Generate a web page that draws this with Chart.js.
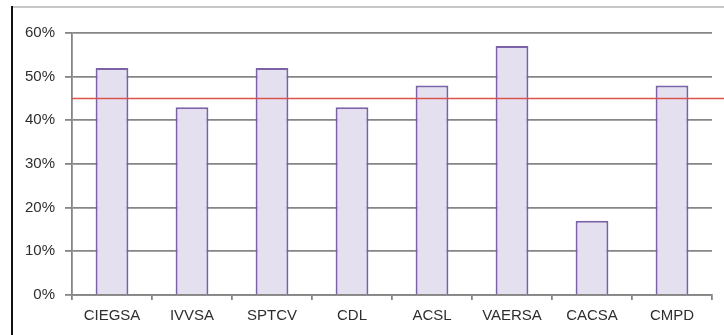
<!DOCTYPE html>
<html>
<head>
<meta charset="utf-8">
<script src="https://cdn.jsdelivr.net/npm/chart.js@4"></script>
<style>
  html, body { margin: 0; padding: 0; background: #fff; }
  #wrap { width: 724px; height: 335px; position: relative; }
</style>
</head>
<body>
<div id="wrap"><canvas id="myChart"></canvas></div>
<script>
// données
var categories = ["CIEGSA", "IVVSA", "SPTCV", "CDL", "ACSL", "VAERSA", "CACSA", "CMPD"];
var percentValues = [52, 43, 52, 43, 48, 57, 17, 48];
var referenceLevel = 45;
var yTicks = [0, 10, 20, 30, 40, 50, 60];

var gridColor = "#868686";
var textColor = "#2e2e2e";
var labelFont = { family: "'Liberation Sans', Arial, sans-serif", size: 15 };

// ligne rouge de référence + cadre gauche/haut
var framePlugin = {
  id: "frame",
  afterDatasetsDraw: function (chart) {
    var ctx = chart.ctx;
    var y = chart.scales.y.getPixelForValue(referenceLevel);
    ctx.save();
    ctx.strokeStyle = "#d9534f";
    ctx.lineWidth = 1.5;
    ctx.beginPath();
    ctx.moveTo(chart.chartArea.left, y);
    ctx.lineTo(chart.width, y);
    ctx.stroke();

    ctx.strokeStyle = "#b5b5b5";
    ctx.lineWidth = 1.5;
    ctx.beginPath();
    ctx.moveTo(12, 7);
    ctx.lineTo(chart.width, 7);
    ctx.stroke();

    ctx.strokeStyle = "#111111";
    ctx.lineWidth = 2;
    ctx.beginPath();
    ctx.moveTo(12, 6);
    ctx.lineTo(12, chart.height);
    ctx.stroke();
    ctx.restore();
  },
};

var ctx = document.getElementById("myChart").getContext("2d");
var myChart = new Chart(ctx, {
  type: "bar",
  data: {
    labels: categories,
    datasets: [
      {
        data: percentValues,
        backgroundColor: "#e5e0ef",
        borderColor: "#7a62a6",
        borderWidth: 2,
        borderSkipped: "bottom",
        barPercentage: 0.41,
        categoryPercentage: 1,
      },
    ],
  },
  options: {
    responsive: true,
    maintainAspectRatio: false,
    animation: false,
    layout: { padding: { left: 0, right: 12, top: 33, bottom: 0 } },
    plugins: {
      legend: { display: false },
      tooltip: { enabled: false },
    },
    scales: {
      x: {
        grid: {
          offset: true,
          drawOnChartArea: false,
          color: gridColor,
          lineWidth: 1.8,
          tickLength: 5,
        },
        border: { color: gridColor, width: 1.8 },
        ticks: {
          color: textColor,
          padding: 7,
          maxRotation: 0,
          font: labelFont,
        },
        afterFit: function (scale) {
          scale.height = 40;
        },
      },
      y: {
        min: 0,
        max: 60,
        afterBuildTicks: function (scale) {
          scale.ticks = yTicks.map(function (v) { return { value: v }; });
        },
        grid: {
          color: gridColor,
          lineWidth: 1.8,
          tickLength: 7,
        },
        border: { color: gridColor, width: 1.8 },
        ticks: {
          color: textColor,
          padding: 10,
          font: labelFont,
          callback: function (v) { return v + "%"; },
        },
        afterFit: function (scale) {
          scale.width = 72;
        },
      },
    },
  },
  plugins: [framePlugin],
});
</script>
</body>
</html>
